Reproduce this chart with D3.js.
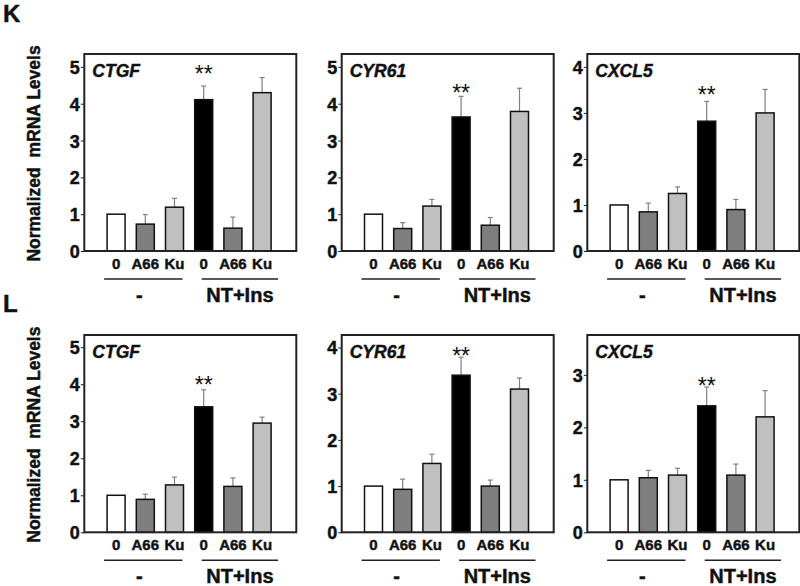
<!DOCTYPE html>
<html><head><meta charset="utf-8">
<script src="https://cdn.jsdelivr.net/npm/d3@7"></script>
<style>body{margin:0;background:#fff}svg{display:block}text{font-family:"Liberation Sans",Arial,sans-serif}
.bt{stroke:#111;stroke-width:0.45px;fill:#111}</style>
</head><body><svg id="c" width="800" height="586"></svg>
<script>
// ---- data ----
const categories = ["0","A66","Ku","0","A66","Ku"];
const groupLabels = ["-","NT+Ins"];
const genes = ["CTGF","CYR61","CXCL5"];
const panelLetters = ["K","L"];
// K row
const kMeans = [
  [1.00,0.73,1.19,4.11,0.62,4.30],
  [1.00,0.61,1.22,3.64,0.70,3.79],
  [1.00,0.85,1.25,2.82,0.90,3.00]
];
const kErrors = [
  [0,0.26,0.24,0.37,0.30,0.41],
  [0,0.16,0.18,0.56,0.21,0.63],
  [0,0.19,0.14,0.43,0.22,0.51]
];
const kYMax = [5.35,5.35,4.28];
const kTicks = [[0,1,2,3,4,5],[0,1,2,3,4,5],[0,1,2,3,4]];
const kStar = [4.86,4.34,3.44];
// L row
const lMeans = [
  [1.00,0.89,1.28,3.39,1.24,2.95],
  [1.00,0.93,1.49,3.40,1.00,3.10],
  [1.00,1.04,1.09,2.41,1.09,2.20]
];
const lErrors = [
  [0,0.14,0.21,0.46,0.23,0.16],
  [0,0.22,0.20,0.39,0.13,0.24],
  [0,0.14,0.13,0.36,0.21,0.50]
];
const lYMax = [5.33,4.27,3.76];
const lTicks = [[0,1,2,3,4,5],[0,1,2,3,4],[0,1,2,3]];
const lStar = [4.03,3.86,2.83];
const starText = "**";
const barColors = ["#ffffff","#7f7f7f","#c0c0c0","#000000","#7f7f7f","#c0c0c0"];
const yLabel = "Normalized\u00a0\u00a0mRNA Levels";

// ---- layout ----
const svg = d3.select("#c");
const colLeft = [84.3, 341.7, 587.3];
const panelW = 212;
const rows = [
  {top:54, bottom:251, means:kMeans, errs:kErrors, ymax:kYMax, ticks:kTicks, star:kStar, letterY:22},
  {top:335, bottom:532.3, means:lMeans, errs:lErrors, ymax:lYMax, ticks:lTicks, star:lStar, letterY:312}
];
const barW = 18;

rows.forEach((row, ri) => {
  svg.append("text").attr("class","bt").attr("x",3).attr("y",row.letterY)
    .attr("font-size",24).attr("font-weight","bold").text(panelLetters[ri]);
  svg.append("text").attr("class","bt")
    .attr("transform",`translate(39.5,${(row.top+row.bottom)/2 + 1}) rotate(-90)`)
    .attr("text-anchor","middle").attr("font-size",17.5).attr("font-weight","bold")
    .text(yLabel);

  genes.forEach((gene, gi) => {
    const x0 = colLeft[gi];
    const g = svg.append("g").attr("transform",`translate(${x0},0)`);
    const y = d3.scaleLinear().domain([0,row.ymax[gi]]).range([row.bottom,row.top]);
    const x = d3.scalePoint().domain(d3.range(6)).range([31.8,177.8]);

    const means = row.means[gi], errs = row.errs[gi];
    const data = means.map((m,i)=>({i, m, e:errs[i]}));
    // error bars
    const eb = g.selectAll(".eb").data(data.filter(d=>d.e>0)).join("g");
    eb.append("line").attr("x1",d=>x(d.i)).attr("x2",d=>x(d.i))
      .attr("y1",d=>y(d.m)).attr("y2",d=>y(d.m+d.e))
      .attr("stroke","#808080").attr("stroke-width",1.2);
    eb.append("line").attr("x1",d=>x(d.i)-2.5).attr("x2",d=>x(d.i)+2.5)
      .attr("y1",d=>y(d.m+d.e)).attr("y2",d=>y(d.m+d.e))
      .attr("stroke","#808080").attr("stroke-width",1.2);
    // bars
    g.selectAll(".bar").data(data).join("rect")
      .attr("x",d=>x(d.i)-barW/2).attr("width",barW)
      .attr("y",d=>y(d.m)).attr("height",d=>y(0)-y(d.m))
      .attr("fill",d=>barColors[d.i]).attr("stroke","#111").attr("stroke-width",1.5);

    // frame
    g.append("rect").attr("x",0).attr("y",row.top).attr("width",panelW)
      .attr("height",row.bottom-row.top).attr("fill","none")
      .attr("stroke","#222").attr("stroke-width",2);

    // y axis
    const ax = g.append("g").call(d3.axisLeft(y).tickValues(row.ticks[gi]).tickFormat(d3.format("d")).tickSize(3.5).tickPadding(1));
    ax.select(".domain").remove();
    ax.selectAll("line").attr("stroke","#222").attr("stroke-width",1);
    ax.selectAll("text").attr("class","bt").attr("font-size",18).attr("font-weight","bold")
      .attr("font-family","'Liberation Sans',Arial,sans-serif").attr("dy","0.36em");

    // gene label
    g.append("text").attr("class","bt").attr("x",8).attr("y",row.top+22.5)
      .attr("font-size",17.5).attr("font-weight","bold").attr("font-style","italic")
      .text(gene);

    // stars
    g.append("text").attr("x",x(3)).attr("y",y(row.star[gi])+10)
      .attr("text-anchor","middle").attr("font-size",23).attr("fill","#111").text(starText);

    // category labels
    g.selectAll(".cat").data(categories).join("text").attr("class","bt")
      .attr("x",(d,i)=>x(i)).attr("y",row.bottom+18)
      .attr("text-anchor","middle").attr("font-size",15).attr("font-weight","bold")
      .text(d=>d);

    // group lines + labels
    const groupSpans = [[x(0)-12, x(2)+8],[x(3)-2, x(5)+16]];
    groupSpans.forEach((s,k)=>{
      g.append("line").attr("x1",s[0]).attr("x2",s[1])
        .attr("y1",row.bottom+28).attr("y2",row.bottom+28)
        .attr("stroke","#222").attr("stroke-width",1.5);
      g.append("text").attr("class","bt").attr("x",(s[0]+s[1])/2 - (k===0?4:0)).attr("y",row.bottom+51)
        .attr("text-anchor","middle").attr("font-size",20).attr("font-weight","bold")
        .text(groupLabels[k]);
    });
  });
});
</script></body></html>
